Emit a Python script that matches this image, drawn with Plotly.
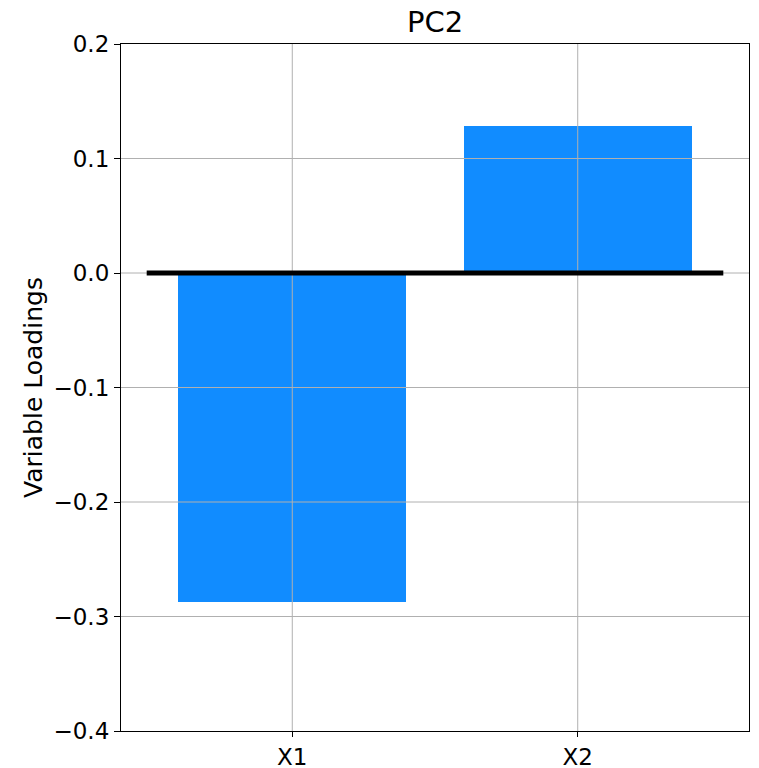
import plotly.graph_objects as go

categories = ["X1", "X2"]
loadings = [-0.287, 0.128]
y_ticks = [-0.4, -0.3, -0.2, -0.1, 0.0, 0.1, 0.2]
y_tick_labels = ["−0.4", "−0.3", "−0.2", "−0.1", "0.0", "0.1", "0.2"]

x_pos = list(range(len(categories)))
FONT = "DejaVu Sans"

fig = go.Figure()
fig.add_trace(go.Bar(
    x=x_pos, y=loadings, width=0.8,
    marker=dict(color="#118cff", line=dict(width=0)),
    showlegend=False,
))

shapes = []
# grid lines drawn above bars (as in the reference)
for v in y_ticks[1:-1]:
    shapes.append(dict(type="line", xref="x domain", yref="y", x0=0, x1=1, y0=v, y1=v,
                       line=dict(color="#b0b0b0", width=1), layer="above"))
for v in x_pos:
    shapes.append(dict(type="line", xref="x", yref="y domain", x0=v, x1=v, y0=0, y1=1,
                       line=dict(color="#b0b0b0", width=1), layer="above"))
# zero reference line
shapes.append(dict(type="line", xref="x", yref="y", x0=-0.51, x1=len(categories) - 0.49,
                   y0=0, y1=0, line=dict(color="black", width=5), layer="above"))

fig.update_layout(
    width=759, height=768,
    margin=dict(l=121, r=10, t=44, b=37),
    paper_bgcolor="white", plot_bgcolor="white",
    font=dict(family=FONT, color="black", size=23),
    title=dict(text="PC2", x=(121 + 749) / 2 / 759, xanchor="center",
               y=1 - 22 / 768, yanchor="middle", font=dict(size=29, family=FONT)),
    shapes=shapes,
    bargap=0,
)
fig.update_xaxes(
    range=[-0.6, 1.6], tickvals=x_pos, ticktext=categories,
    showgrid=False, zeroline=False, automargin=False,
    showline=True, mirror=True, linecolor="black", linewidth=1.2,
    ticks="outside", ticklen=5, tickwidth=1.2, tickcolor="black",
    tickfont=dict(size=23, family=FONT),
)
fig.update_yaxes(
    range=[-0.4, 0.2], tickvals=y_ticks, ticktext=y_tick_labels,
    showgrid=False, zeroline=False, automargin=False,
    showline=True, mirror=True, linecolor="black", linewidth=1.2,
    ticks="outside", ticklen=6, tickwidth=1.2, tickcolor="black",
    tickfont=dict(size=23, family=FONT),
    title=dict(text="Variable Loadings", font=dict(size=25, family=FONT), standoff=3),
)

fig.write_html(
    "out.html",
    config={"displayModeBar": False},
    post_script="document.body.style.margin='0';document.body.style.overflow='hidden';",
)
